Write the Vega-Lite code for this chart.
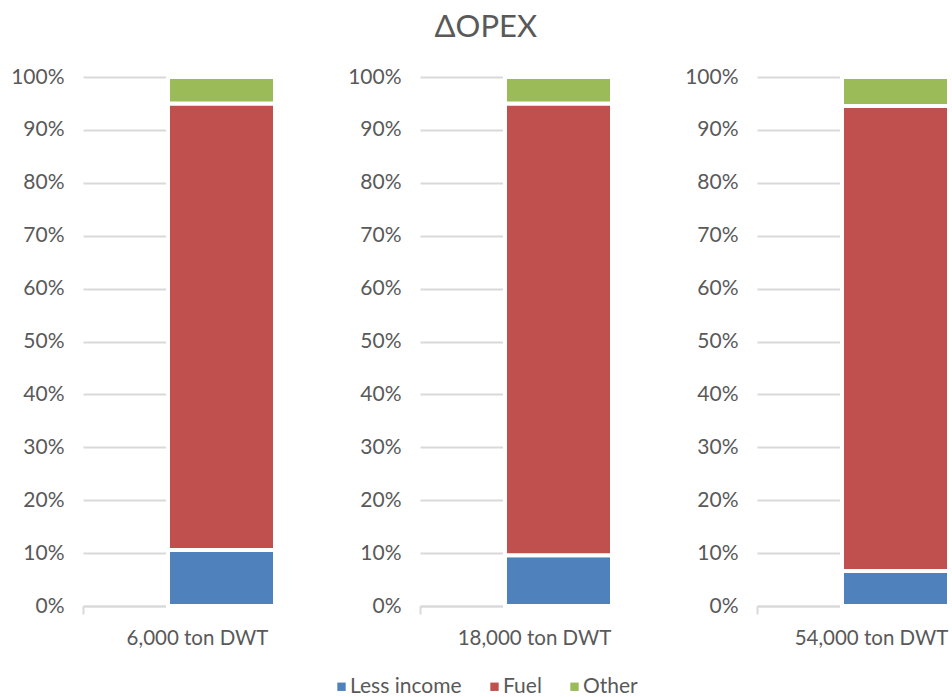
{
  "$schema": "https://vega.github.io/schema/vega-lite/v6.json",
  "padding": {"left": 10, "top": 12, "right": 0, "bottom": 0},
  "background": "white",
  "title": {"text": "ΔOPEX", "font": "Lato", "fontSize": 31, "fontWeight": "normal", "color": "#595959", "anchor": "middle", "offset": 22, "dx": 5},
  "data": {"values": [
    {"size": "6,000 ton DWT", "cost": "Less income", "order": 1, "share": 0.106},
    {"size": "6,000 ton DWT", "cost": "Fuel", "order": 2, "share": 0.844},
    {"size": "6,000 ton DWT", "cost": "Other", "order": 3, "share": 0.050},
    {"size": "18,000 ton DWT", "cost": "Less income", "order": 1, "share": 0.096},
    {"size": "18,000 ton DWT", "cost": "Fuel", "order": 2, "share": 0.854},
    {"size": "18,000 ton DWT", "cost": "Other", "order": 3, "share": 0.050},
    {"size": "54,000 ton DWT", "cost": "Less income", "order": 1, "share": 0.066},
    {"size": "54,000 ton DWT", "cost": "Fuel", "order": 2, "share": 0.879},
    {"size": "54,000 ton DWT", "cost": "Other", "order": 3, "share": 0.055}
  ]},
  "facet": {"column": {"field": "size", "type": "nominal", "sort": ["6,000 ton DWT", "18,000 ton DWT", "54,000 ton DWT"], "title": null, "header": {"labels": false, "title": null}}},
  "spacing": 145,
  "bounds": "flush",
  "resolve": {"scale": {"x": "independent"}, "axis": {"x": "independent", "y": "independent"}},
  "spec": {
    "width": 192,
    "height": 529,
    "mark": {"type": "bar", "stroke": "white", "strokeWidth": 4},
    "encoding": {
      "x": {"field": "size", "type": "nominal", "title": null,
        "scale": {"paddingInner": 0, "paddingOuter": 0.397, "align": 1},
        "axis": {"bandPosition": -0.794, "ticks": true, "tickSize": 8, "tickColor": "#D9D9D9", "tickWidth": 2,
          "domainColor": "#D9D9D9", "domainWidth": 2, "labelOffset": -24, "labelAngle": 0,
          "labelFont": "Lato", "labelFontSize": 20.5, "labelColor": "#595959", "labelBaseline": "alphabetic", "labelPadding": 30, "grid": false}},
      "y": {"field": "share", "type": "quantitative", "stack": "zero", "title": null,
        "scale": {"domain": [0, 1], "nice": false},
        "axis": {"values": [0, 0.1, 0.2, 0.3, 0.4, 0.5, 0.6, 0.7, 0.8, 0.9, 1], "format": ".0%", "ticks": false, "domain": false,
          "labelFont": "Lato", "labelFontSize": 21, "labelColor": "#595959", "labelPadding": 19,
          "grid": true, "gridColor": "#D9D9D9", "gridWidth": 2}},
      "color": {"field": "cost", "type": "nominal", "title": null,
        "scale": {"domain": ["Less income", "Fuel", "Other"], "range": ["#4F81BD", "#C0504D", "#9BBB59"]},
        "legend": {"orient": "none", "legendX": 248, "legendY": 599, "direction": "horizontal", "symbolType": "square", "symbolSize": 70, "symbolStrokeWidth": 0,
          "labelFont": "Lato", "labelFontSize": 21, "labelColor": "#595959", "columnPadding": 22, "labelOffset": -2}},
      "order": {"field": "order", "type": "quantitative"}
    }
  },
  "config": {"view": {"stroke": null}}
}
